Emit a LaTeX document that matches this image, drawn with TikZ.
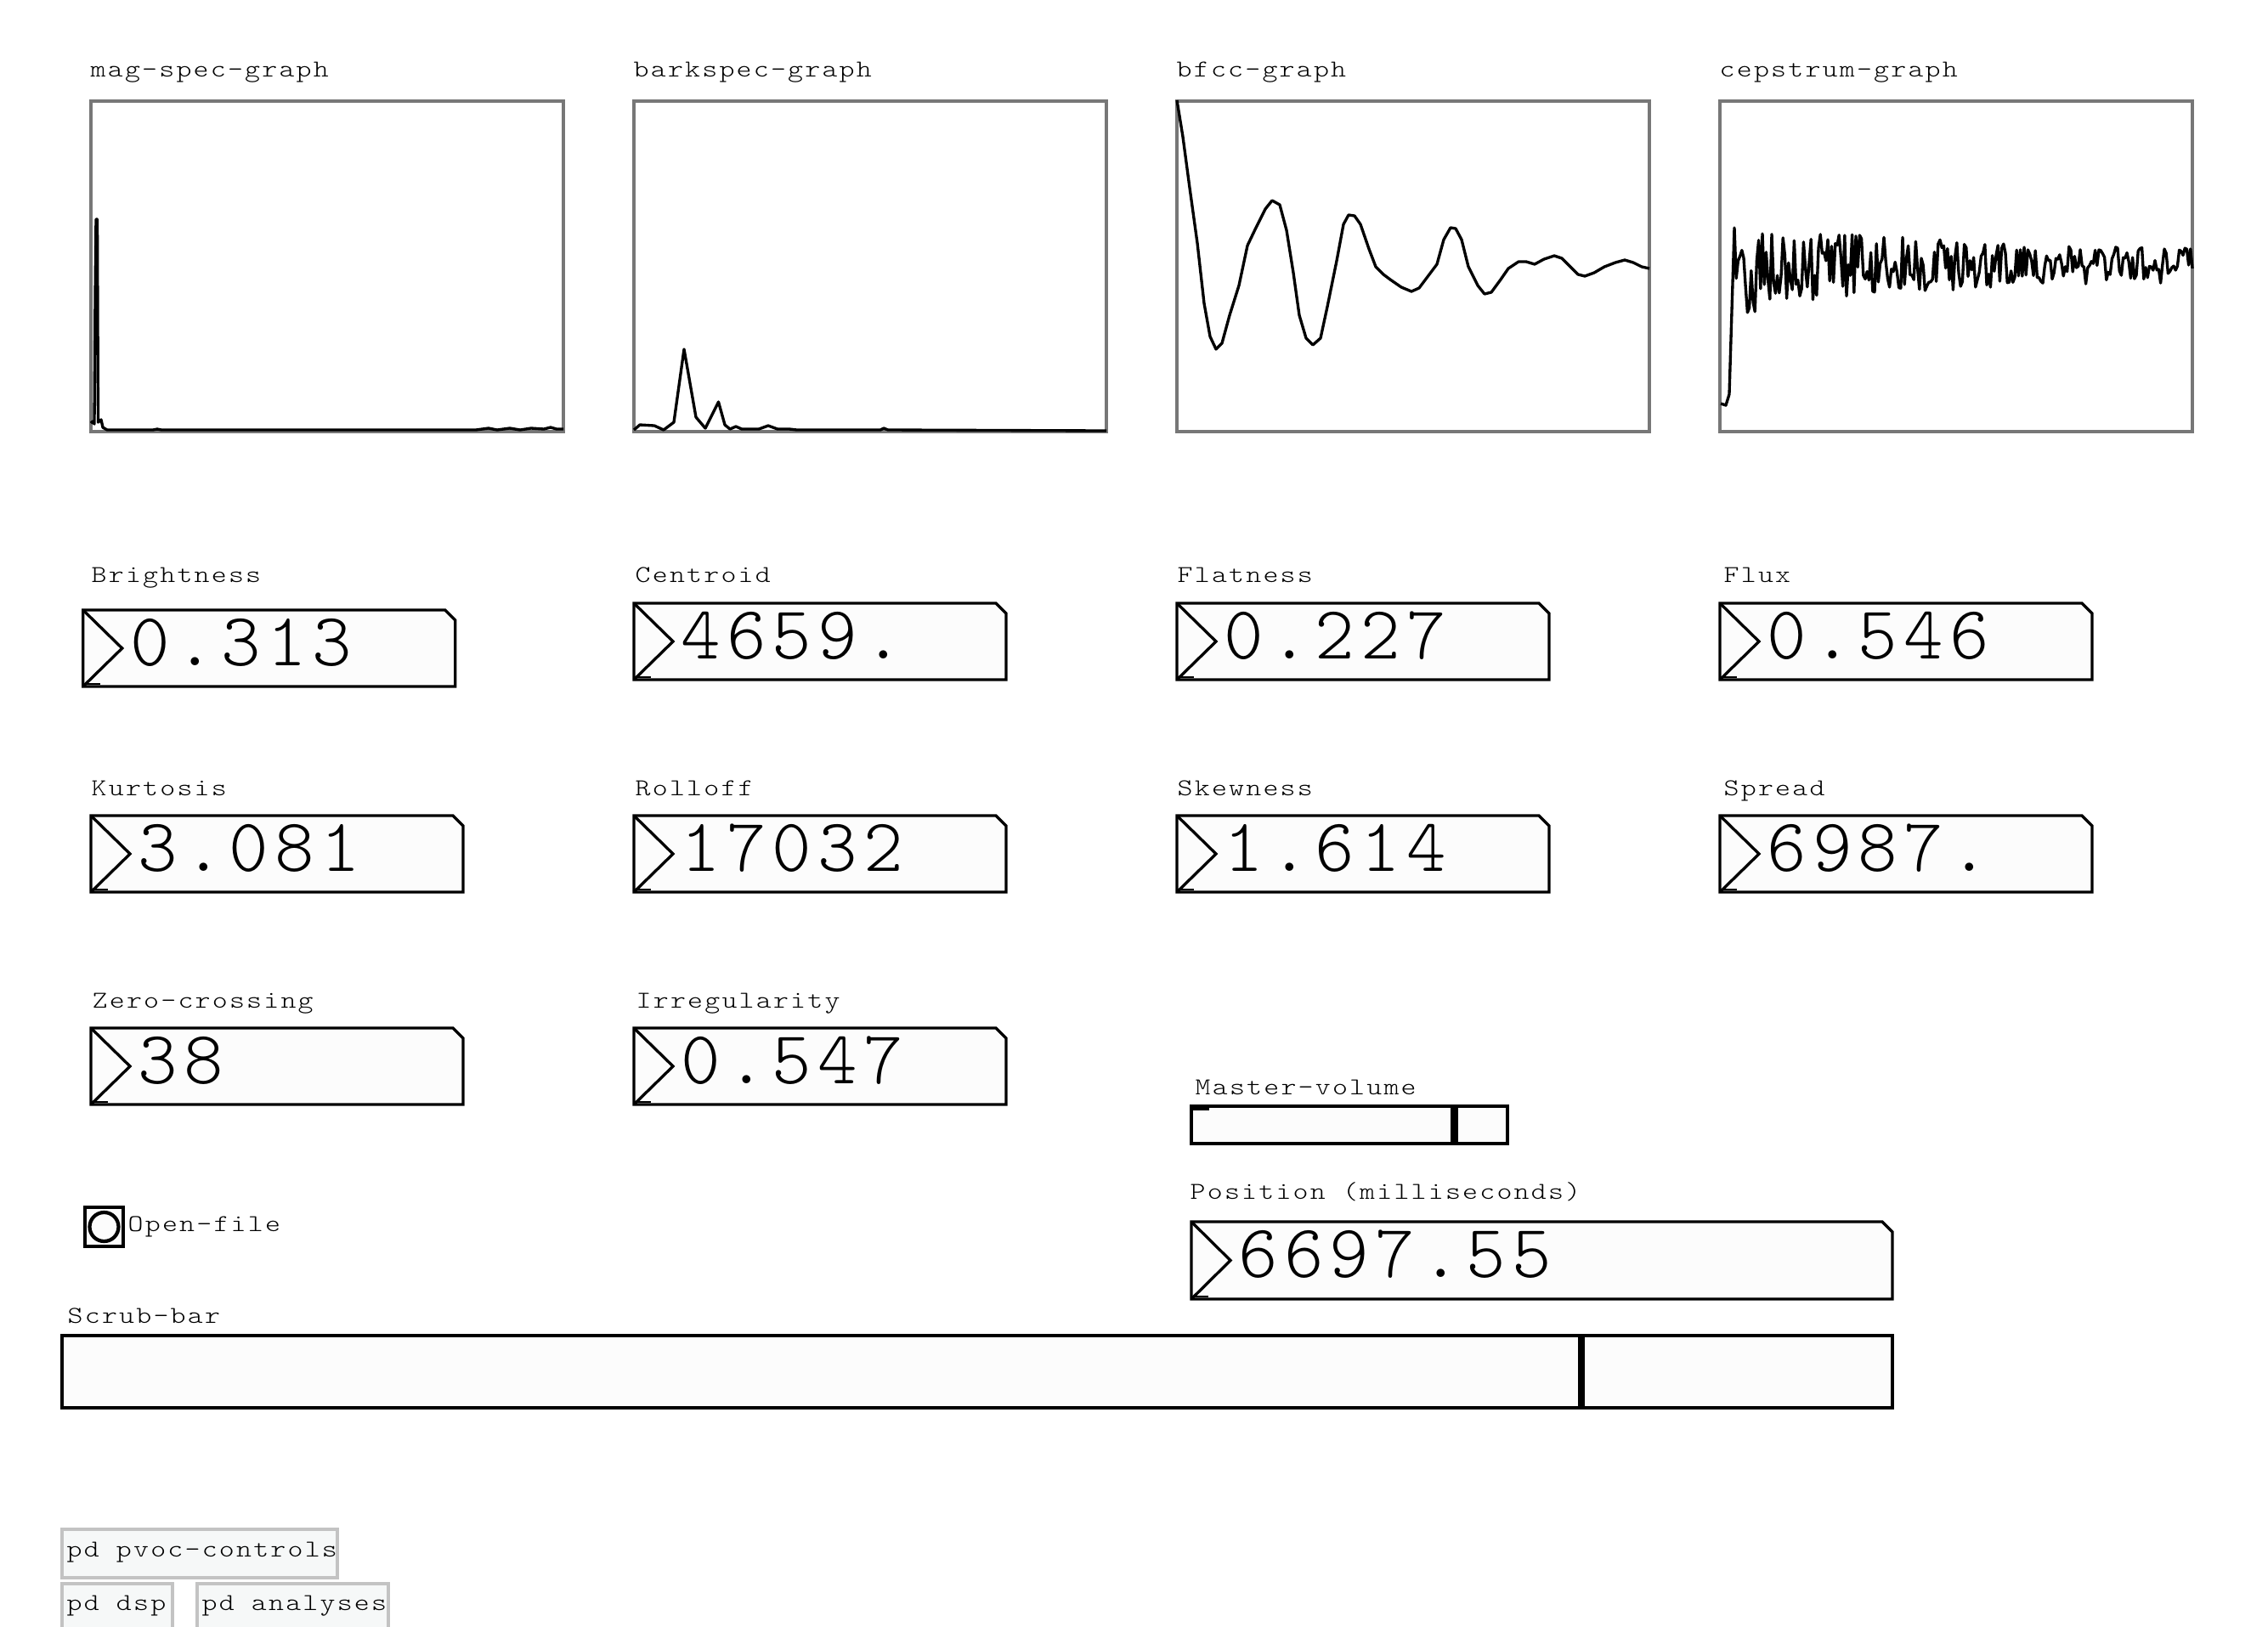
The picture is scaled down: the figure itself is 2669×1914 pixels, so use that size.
\documentclass[tikz,border=0pt]{standalone}
\usepackage{fontspec}
\newfontfamily\pdfont{Latin Modern Mono Light}[FakeStretch=1.2, LetterSpace=7.8]
\newfontfamily\pdnumfont{Latin Modern Mono Light}[LetterSpace=8]
\definecolor{gframe}{HTML}{777777}
\definecolor{boxfill}{HTML}{FCFCFC}
\definecolor{pdgray}{HTML}{C3C3C3}
\definecolor{pdfill}{HTML}{F6F8F8}
\tikzset{
  graphframe/.style={draw=gframe, line width=0.95pt},
  curve/.style={line width=0.95pt, line join=round},
  numframe/.style={draw=black, line width=0.95pt, line join=miter},
  lbl/.style={anchor=base west, inner sep=0pt, font=\pdfont\fontsize{8.1}{10}\selectfont},
  numtxt/.style={anchor=base west, inner sep=0pt, font=\pdnumfont\fontsize{25.2}{30}\selectfont},
  pdbox/.style={draw=pdgray, line width=1.15pt, fill=pdfill},
  sliderframe/.style={draw=black, line width=0.95pt, fill=boxfill},
}
% #1 name, #2 x, #3 y, #4 width, #5 height, #6 value
\newcommand{\pdnumbox}[6]{%
  \begin{scope}[shift={(#2,#3)}]
    \filldraw[numframe, fill=boxfill] (0,0) -- ({#4-12},0) -- (#4,12) -- (#4,#5) -- (0,#5) -- cycle;
    \draw[numframe] (0,0) -- (46,{#5/2}) -- (0,#5);
    \draw[line width=0.7pt] (0,{#5-3}) -- (20,{#5-3});
    \node[numtxt] (#1) at (55,65) {#6};
  \end{scope}}
\begin{document}
\begin{tikzpicture}[x=0.01cm, y=-0.01cm]
\path[use as bounding box] (0,0) rectangle (2669,1914);
\clip (0,0) rectangle (2669,1914);

% ---------- graphs ----------
\node[lbl] (lmag)  at (106,90)  {mag-spec-graph};
\node[lbl] (lbark) at (745,90)  {barkspec-graph};
\node[lbl] (lbfcc) at (1384,90) {bfcc-graph};
\node[lbl] (lcep)  at (2023,90) {cepstrum-graph};

\draw[graphframe] (107,119) rectangle (663,508);
\draw[graphframe] (746,119) rectangle (1302,508);
\draw[graphframe] (1385,119) rectangle (1941,508);
\draw[graphframe] (2024,119) rectangle (2580,508);

% mag-spec curve
\draw[curve] (107,498) -- (109,496) -- (111,499) -- (112,352) -- (113,258) -- (114.5,258)
  -- (115.5,497) -- (119,494) -- (121,503) -- (126,506) -- (180,506) -- (185,505) -- (190,506)
  -- (560,506) -- (575,504) -- (585,506) -- (600,504) -- (612,506) -- (625,504) -- (640,505)
  -- (648,503) -- (655,505) -- (663,505);

% barkspec curve
\draw[curve] (746,506) -- (753,500) -- (770,501) -- (781,506) -- (793,497) -- (805,411)
  -- (819,491) -- (830,504) -- (845.5,473) -- (853,500) -- (859,505) -- (866,502) -- (873,505)
  -- (893,505) -- (904,501) -- (915,505) -- (929,505) -- (937.5,506) -- (1036,506) -- (1040,504)
  -- (1045,506) -- (1302,507);

% bfcc curve
\draw[curve] (1385,118) -- (1392,161) -- (1400,221) -- (1409,286) -- (1417,357) -- (1424,396)
  -- (1431,411) -- (1438,404) -- (1447,371) -- (1458,336) -- (1468,289) -- (1478,268)
  -- (1489,246) -- (1497,236) -- (1506,241) -- (1514,271) -- (1522,321) -- (1529,371)
  -- (1537,398) -- (1545,406) -- (1554,398) -- (1562,361) -- (1573,307) -- (1581,264)
  -- (1587,253) -- (1594,254) -- (1601,264) -- (1611,293) -- (1619,314) -- (1628,323)
  -- (1636,329) -- (1649,338) -- (1661,343) -- (1670,339) -- (1682,323) -- (1691,311)
  -- (1699,282) -- (1707,268) -- (1713,269) -- (1720,282) -- (1728,314) -- (1739,336)
  -- (1747,346) -- (1755,344) -- (1766,329) -- (1775,316) -- (1787,308) -- (1796,308)
  -- (1806,311) -- (1817,305) -- (1829,301) -- (1838,304) -- (1848,314) -- (1857,323)
  -- (1865,325) -- (1876,321) -- (1888,314) -- (1901,309) -- (1912,306) -- (1922,309)
  -- (1932,314) -- (1941,316);

% cepstrum curve
\pgfmathsetseed{11}
\draw[curve] (2025,475) -- (2031,477) -- (2035,464) -- (2041,268)
  \foreach \i in {1,...,244}{ -- ({2041+\i*2.2},{312+14*exp(-\i/30)+(18+42*exp(-\i/90))*rand}) }
  -- (2580,316);

% ---------- number boxes ----------
\node[lbl] (lbright) at (107,685)  {Brightness};
\node[lbl] (lcent)   at (747,685)  {Centroid};
\node[lbl] (lflat)   at (1385,685) {Flatness};
\node[lbl] (lflux)   at (2028,685) {Flux};
\pdnumbox{vbright}{97.7}{718}{438}{90}{0.313}
\pdnumbox{vcent}{746}{710}{438}{90}{4659.}
\pdnumbox{vflat}{1385}{710}{438}{90}{0.227}
\pdnumbox{vflux}{2024}{710}{438}{90}{0.546}

\node[lbl] (lkurt) at (107,936)  {Kurtosis};
\node[lbl] (lroll) at (747,936)  {Rolloff};
\node[lbl] (lskew) at (1385,936) {Skewness};
\node[lbl] (lspr)  at (2028,936) {Spread};
\pdnumbox{vkurt}{107}{960}{438}{90}{3.081}
\pdnumbox{vroll}{746}{960}{438}{90}{17032}
\pdnumbox{vskew}{1385}{960}{438}{90}{1.614}
\pdnumbox{vspr}{2024}{960}{438}{90}{6987.}

\node[lbl] (lzero) at (108,1186) {Zero-crossing};
\node[lbl] (lirr)  at (748,1186) {Irregularity};
\pdnumbox{vzero}{107}{1210}{438}{90}{38}
\pdnumbox{virr}{746}{1210}{438}{90}{0.547}

% ---------- master volume ----------
\node[lbl] (lmaster) at (1406,1288) {Master-volume};
\draw[sliderframe] (1402,1302) rectangle (1774,1346);
\draw[line width=0.9pt] (1403,1305) -- (1423,1305);
\draw[line width=2.6pt] (1711.5,1302) -- (1711.5,1346);

% ---------- position ----------
\node[lbl] (lpos) at (1400,1411) {Position (milliseconds)};
\pdnumbox{vpos}{1402}{1438}{825}{91}{6697.55}

% ---------- open file bang ----------
\draw[line width=1.4pt, fill=boxfill] (100,1421) rectangle (145,1467);
\draw[line width=1.2pt, fill=boxfill] (122.5,1444) circle[radius=0.17cm];
\node[lbl] (lopen) at (150,1449) {Open-file};

% ---------- scrub bar ----------
\node[lbl] (lscrub) at (79,1557) {Scrub-bar};
\draw[sliderframe] (73,1572) rectangle (2227,1657);
\draw[line width=2.3pt] (1861,1572) -- (1861,1657);

% ---------- subpatches ----------
\draw[pdbox] (72.7,1800) rectangle (396.7,1857);
\node[lbl] (pvoc) at (78,1832) {pd pvoc-controls};
\draw[pdbox] (72.7,1864) rectangle (202.7,1935);
\node[lbl] (pdsp) at (78,1895) {pd dsp};
\draw[pdbox] (231.7,1864) rectangle (457,1935);
\node[lbl] (pana) at (237,1895) {pd analyses};
\end{tikzpicture}
\end{document}
